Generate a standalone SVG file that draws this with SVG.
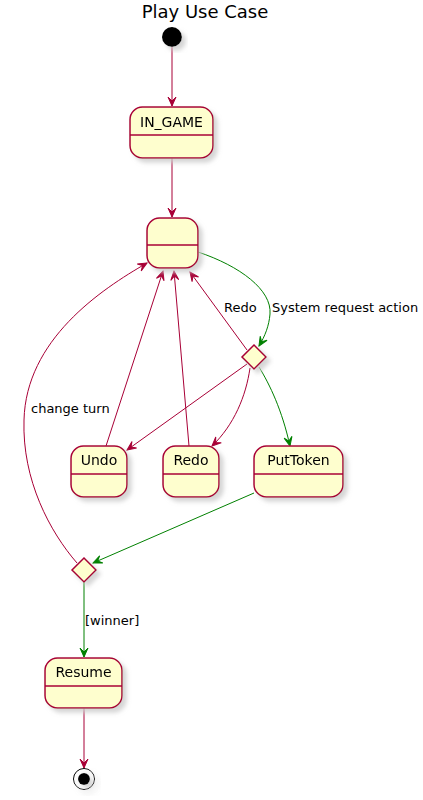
<svg xmlns="http://www.w3.org/2000/svg" width="423" height="800" viewBox="0 0 423 800">
<style>
.st{fill:#FEFECE;stroke:#A80036;stroke-width:1.5}
.dv{stroke:#A80036;stroke-width:1.5}
.nm{font-family:"DejaVu Sans",sans-serif;font-size:14px;fill:#000;text-anchor:middle}
.lb{font-family:"DejaVu Sans",sans-serif;font-size:13px;fill:#000}
.r{fill:none;stroke:#A80036;stroke-width:1}
.g{fill:none;stroke:#008000;stroke-width:1}
</style>
<defs>
<filter id="sh" x="-20%" y="-20%" width="150%" height="150%">
<feGaussianBlur in="SourceAlpha" stdDeviation="2" result="b"/>
<feOffset in="b" dx="4" dy="4" result="o"/>
<feColorMatrix in="o" type="matrix" values="0 0 0 0 0.6  0 0 0 0 0.6  0 0 0 0 0.6  0 0 0 0.8 0" result="c"/>
<feMerge><feMergeNode in="c"/><feMergeNode in="SourceGraphic"/></feMerge>
</filter>
<marker id="ar" viewBox="-10 -5 11 10" refX="0" refY="0" markerWidth="11" markerHeight="10" markerUnits="userSpaceOnUse" orient="auto">
<path d="M0,0 L-9,-4 L-5,0 L-9,4 Z" fill="#A80036" stroke="#A80036" stroke-width="1"/>
</marker>
<marker id="ag" viewBox="-10 -5 11 10" refX="0" refY="0" markerWidth="11" markerHeight="10" markerUnits="userSpaceOnUse" orient="auto">
<path d="M0,0 L-9,-4 L-5,0 L-9,4 Z" fill="#008000" stroke="#008000" stroke-width="1"/>
</marker>
</defs>
<text x="205" y="18" font-family="DejaVu Sans,sans-serif" font-size="18" text-anchor="middle">Play Use Case</text>

<g id="connectors">
<path class="r" d="M172,47 L172,106" marker-end="url(#ar)"/>
<path class="r" d="M172,158 L172,217" marker-end="url(#ar)"/>
<path class="g" d="M198,252 C240,266 272,290 270,314 C269,326 265,336 259,346" marker-end="url(#ag)"/>
<text class="lb" x="272" y="312">System request action</text>
<path class="r" d="M247,350 L190,272" marker-end="url(#ar)"/>
<text class="lb" x="224" y="312">Redo</text>
<path class="r" d="M247,364 L127,450" marker-end="url(#ar)"/>
<path class="r" d="M250,368 C246,396 234,425 212,446" marker-end="url(#ar)"/>
<path class="g" d="M259,367 C270,385 282,410 290,446" marker-end="url(#ag)"/>
<path class="r" d="M106,446 L163,271" marker-end="url(#ar)"/>
<path class="r" d="M189,446 L174,271" marker-end="url(#ar)"/>
<path class="g" d="M254,493 L93,563" marker-end="url(#ag)"/>
<path class="r" d="M77,563 C50,532 22,480 24,420 C26,340 100,290 147,263" marker-end="url(#ar)"/>
<text class="lb" x="31" y="413">change turn</text>
<path class="g" d="M84,582 L84,657" marker-end="url(#ag)"/>
<text class="lb" x="85" y="625">[winner]</text>
<path class="r" d="M84,708 L84,768" marker-end="url(#ar)"/>
</g>

<g id="start"><circle cx="172" cy="37" r="10" fill="#000" filter="url(#sh)"/></g>

<g id="IN_GAME" filter="url(#sh)">
<rect class="st" x="130" y="107" width="83" height="51" rx="12.5"/>
<line class="dv" x1="130" y1="135" x2="213" y2="135"/>
<text class="nm" x="171.5" y="127">IN_GAME</text>
</g>

<g id="state" filter="url(#sh)">
<rect class="st" x="147" y="218" width="51" height="50" rx="12.5"/>
<line class="dv" x1="147" y1="245" x2="198" y2="245"/>
</g>

<g id="choice1" filter="url(#sh)">
<polygon class="st" points="254,345 266,357 254,369 242,357"/>
</g>

<g id="Undo" filter="url(#sh)">
<rect class="st" x="71" y="446" width="56" height="51" rx="12.5"/>
<line class="dv" x1="71" y1="474" x2="127" y2="474"/>
<text class="nm" x="99" y="465">Undo</text>
</g>

<g id="Redo" filter="url(#sh)">
<rect class="st" x="163" y="446" width="56" height="51" rx="12.5"/>
<line class="dv" x1="163" y1="474" x2="219" y2="474"/>
<text class="nm" x="191" y="465">Redo</text>
</g>

<g id="PutToken" filter="url(#sh)">
<rect class="st" x="254" y="446" width="89" height="51" rx="12.5"/>
<line class="dv" x1="254" y1="474" x2="343" y2="474"/>
<text class="nm" x="298.5" y="465">PutToken</text>
</g>

<g id="choice2" filter="url(#sh)">
<polygon class="st" points="84,558 96,570 84,582 72,570"/>
</g>

<g id="Resume" filter="url(#sh)">
<rect class="st" x="45" y="658" width="77" height="50" rx="12.5"/>
<line class="dv" x1="45" y1="686" x2="122" y2="686"/>
<text class="nm" x="83.5" y="677">Resume</text>
</g>

<g id="end" filter="url(#sh)">
<circle cx="84" cy="779" r="10.5" fill="none" stroke="#000" stroke-width="1"/>
<circle cx="84" cy="779" r="6" fill="#000"/>
</g>
</svg>
